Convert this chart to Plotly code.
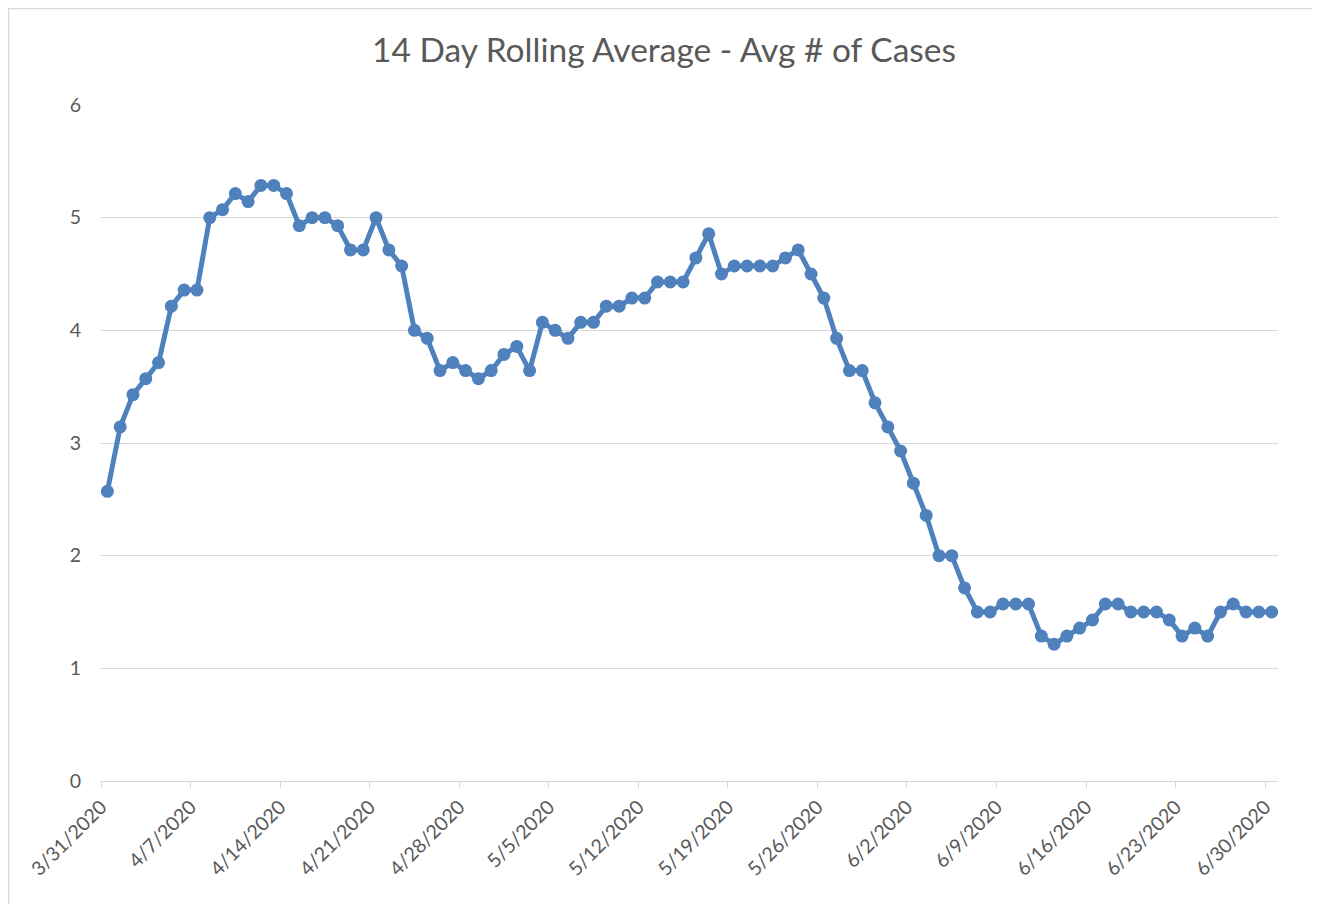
import pandas as pd
import plotly.graph_objects as go

start_date = "2020-03-31"
avg_cases = [
    2.571, 3.143, 3.429, 3.571, 3.714, 4.214, 4.357, 4.357, 5.0, 5.071,
    5.214, 5.143, 5.286, 5.286, 5.214, 4.929, 5.0, 5.0, 4.929, 4.714,
    4.714, 5.0, 4.714, 4.571, 4.0, 3.929, 3.643, 3.714, 3.643, 3.571,
    3.643, 3.786, 3.857, 3.643, 4.071, 4.0, 3.929, 4.071, 4.071, 4.214,
    4.214, 4.286, 4.286, 4.429, 4.429, 4.429, 4.643, 4.857, 4.5, 4.571,
    4.571, 4.571, 4.571, 4.643, 4.714, 4.5, 4.286, 3.929, 3.643, 3.643,
    3.357, 3.143, 2.929, 2.643, 2.357, 2.0, 2.0, 1.714, 1.5, 1.5,
    1.571, 1.571, 1.571, 1.286, 1.214, 1.286, 1.357, 1.429, 1.571, 1.571,
    1.5, 1.5, 1.5, 1.429, 1.286, 1.357, 1.286, 1.5, 1.571, 1.5,
    1.5, 1.5,
]
title_text = "14 Day Rolling Average - Avg # of Cases"

dates = pd.date_range(start_date, periods=len(avg_cases), freq="D")
# Excel date axis places each point in the middle of its day
x_pos = dates + pd.Timedelta(hours=12)
tick_dates = pd.date_range(start_date, dates[-1], freq="7D")
axis_end = dates[-1] + pd.Timedelta(days=1)

grey = "#595959"
grid = "#D9D9D9"
font_family = "Lato, 'Open Sans', sans-serif"

fig = go.Figure()
fig.add_trace(go.Scatter(
    x=x_pos, y=avg_cases, mode="lines+markers",
    line=dict(color="#4F81BD", width=5),
    marker=dict(color="#4F81BD", size=13),
    showlegend=False,
))

# page body has an 8px margin, so figure coords = screen coords - 8
W, H = 1312, 896
L, T = 93, 97
R = W - 1270
B = H - 773
pw, ph = W - L - R, H - T - B

fig.update_layout(
    width=W, height=H,
    margin=dict(l=L, r=R, t=T, b=B),
    paper_bgcolor="white", plot_bgcolor="white",
    font=dict(family=font_family, color=grey),
    title=dict(text=title_text, x=0.5, xanchor="center", y=1 - 42 / H, yanchor="middle",
               font=dict(size=33.5, color=grey, family=font_family)),
    xaxis=dict(
        type="date", range=[dates[0], axis_end],
        tickvals=tick_dates, tickformat="%-m/%-d/%Y", tickangle=-45,
        tickfont=dict(size=19.5, color=grey),
        ticks="outside", ticklen=6, tickcolor=grid, tickwidth=1,
        showgrid=False, showline=True, linecolor=grid, linewidth=1,
        zeroline=False, fixedrange=True,
    ),
    yaxis=dict(
        range=[0, 6], dtick=1, tickfont=dict(size=19.5, color=grey),
        showgrid=True, gridcolor=grid, gridwidth=1, zeroline=False,
        showline=False, ticks="", ticklabelstandoff=19, fixedrange=True,
    ),
    shapes=[dict(
        type="rect", xref="paper", yref="paper",
        x0=(0.5 - L) / pw, x1=(1310 - L) / pw,
        y0=-(B + 20) / ph, y1=(H - B - 0.5) / ph,
        line=dict(color="#D9D9D9", width=1.5), fillcolor="rgba(0,0,0,0)", layer="below",
    )],
)

fig.write_html("out.html")
